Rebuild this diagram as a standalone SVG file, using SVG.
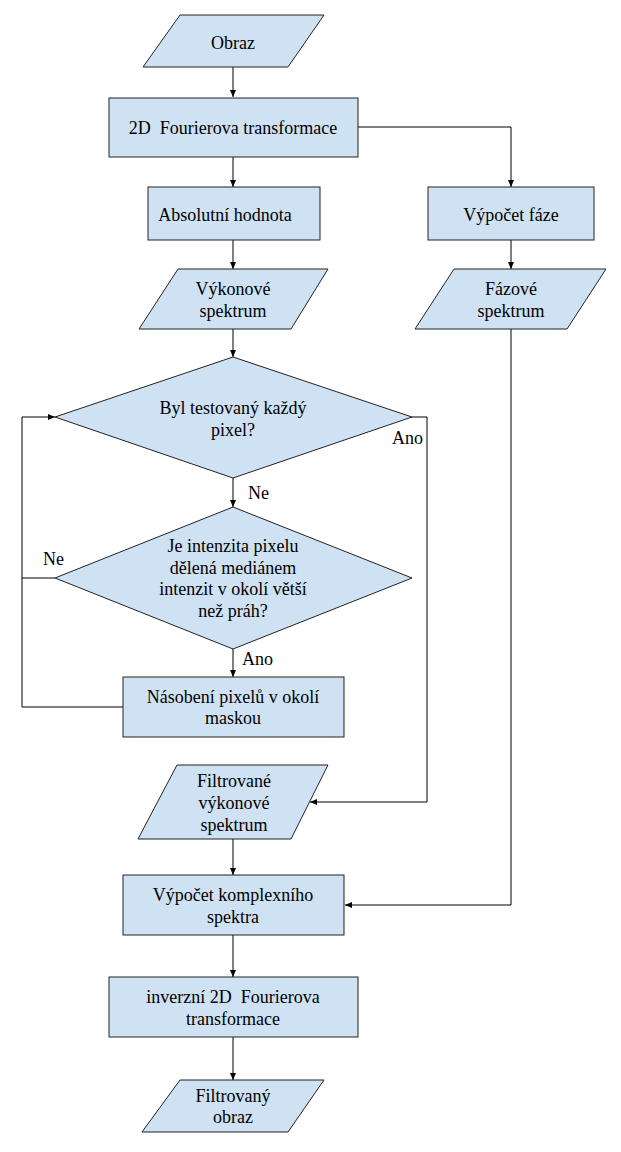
<svg xmlns="http://www.w3.org/2000/svg" width="621" height="1152" viewBox="0 0 621 1152">
<style>
.n{fill:#cfe2f3;stroke:#222;stroke-width:1}
.t{font-family:Liberation Serif, serif;font-size:18px;fill:#000;text-anchor:middle;white-space:pre}
.l{font-family:Liberation Serif, serif;font-size:18px;fill:#000}
.c{fill:none;stroke:#000;stroke-width:1}
.a{marker-end:url(#ah)}
</style>
<defs>
<marker id="ah" markerWidth="8" markerHeight="8" refX="7" refY="4" orient="auto" markerUnits="userSpaceOnUse">
<path d="M0,1 L7,4 L0,7 Z" fill="#000"/>
</marker>
</defs>
<rect width="621" height="1152" fill="#fff"/>
<g id="connectors">
<path class="c a" d="M233,67 V97"/>
<path class="c a" d="M233,157 V187"/>
<path class="c a" d="M358,127 H511 V187"/>
<path class="c a" d="M233,240 V269"/>
<path class="c a" d="M511,240 V269"/>
<path class="c a" d="M233,329 V357"/>
<path class="c a" d="M233,478 V507"/>
<path class="c a" d="M233,649 V677"/>
<path class="c" d="M55,578 H22"/>
<path class="c a" d="M123,707 H22 V417 H55"/>
<path class="c a" d="M412,417 H427 V802 H310"/>
<path class="c a" d="M233,839 V875"/>
<path class="c a" d="M511,329 V905 H345"/>
<path class="c a" d="M233,935 V977"/>
<path class="c a" d="M233,1037 V1080"/>
<text class="l" x="392" y="444">Ano</text>
<text class="l" x="248" y="499">Ne</text>
<text class="l" x="43" y="565">Ne</text>
<text class="l" x="242" y="665">Ano</text>
</g>
<g id="obraz">
<polygon class="n" points="180,15 324,15 288,67 143,67"/>
<text class="t" x="233" y="49">Obraz</text>
</g>
<g id="fourier">
<rect class="n" x="109" y="98" width="249" height="59"/>
<text class="t" x="233" y="134">2D  Fourierova transformace</text>
</g>
<g id="absolutni">
<rect class="n" x="148" y="187" width="172" height="53"/>
<text class="t" x="225" y="221">Absolutní hodnota</text>
</g>
<g id="faze">
<rect class="n" x="428" y="187" width="166" height="53"/>
<text class="t" x="511" y="221">Výpočet fáze</text>
</g>
<g id="vykonove">
<polygon class="n" points="178,269 328,269 291,329 139,329"/>
<text class="t" x="233" y="295">Výkonové</text>
<text class="t" x="233" y="317">spektrum</text>
</g>
<g id="fazove">
<polygon class="n" points="454,269 606,269 567,329 415,329"/>
<text class="t" x="511" y="295">Fázové</text>
<text class="t" x="511" y="317">spektrum</text>
</g>
<g id="test">
<polygon class="n" points="233,357 412,417 233,478 55,417"/>
<text class="t" x="233" y="414">Byl testovaný každý</text>
<text class="t" x="233" y="436">pixel?</text>
</g>
<g id="prah">
<polygon class="n" points="233,507 412,578 233,649 55,578"/>
<text class="t" x="233" y="552">Je intenzita pixelu</text>
<text class="t" x="233" y="573.5">dělená mediánem</text>
<text class="t" x="233" y="595">intenzit v okolí větší</text>
<text class="t" x="233" y="617">než práh?</text>
</g>
<g id="nasobeni">
<rect class="n" x="123" y="677" width="221" height="60"/>
<text class="t" x="233" y="703">Násobení pixelů v okolí</text>
<text class="t" x="233" y="724">maskou</text>
</g>
<g id="filtrovane">
<polygon class="n" points="177,765 328,765 291,839 138,839"/>
<text class="t" x="234" y="787">Filtrované</text>
<text class="t" x="234" y="809">výkonové</text>
<text class="t" x="234" y="831">spektrum</text>
</g>
<g id="komplexni">
<rect class="n" x="123" y="875" width="221" height="60"/>
<text class="t" x="233" y="901">Výpočet komplexního</text>
<text class="t" x="233" y="923">spektra</text>
</g>
<g id="inverzni">
<rect class="n" x="109" y="977" width="249" height="60"/>
<text class="t" x="233" y="1003">inverzní 2D  Fourierova</text>
<text class="t" x="233" y="1025">transformace</text>
</g>
<g id="vystup">
<polygon class="n" points="180,1080 324,1080 288,1132 142,1132"/>
<text class="t" x="233" y="1102">Filtrovaný</text>
<text class="t" x="233" y="1123">obraz</text>
</g>
</svg>
